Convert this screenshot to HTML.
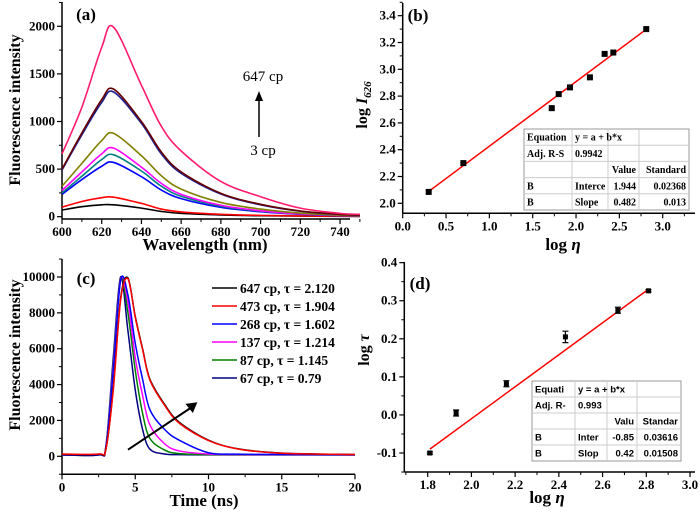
<!DOCTYPE html>
<html><head><meta charset="utf-8"><style>
html,body{margin:0;padding:0;background:#fff;}
svg{display:block;font-family:"Liberation Serif",serif;font-weight:bold;}
.tb{font-family:"Liberation Sans",sans-serif;}
</style></head><body>
<svg id="fig" width="700" height="514" viewBox="0 0 700 514" xmlns="http://www.w3.org/2000/svg"></svg>
<script>
// ---- Panel (a) data ----
const wlA = [600,610,620,626,640,650,660,680,700,720,740,750];
const aPink = [660,1150,1780,1990,1380,950,690,370,210,90,35,25];
const aBrown = [500,880,1230,1340,1000,680,470,245,130,60,25,18];
const aNavy = [490,860,1200,1310,980,660,455,238,125,58,24,17];
const aOlive = [320,560,800,875,640,430,290,150,80,38,16,12];
const aMagenta = [275,470,660,720,520,350,235,120,62,30,14,10];
const aTeal = [250,425,600,650,480,320,215,110,58,28,13,9];
const aBlue = [235,390,530,570,420,280,190,98,52,25,11,8];
const aRed = [100,160,200,205,140,80,50,25,14,8,5,4];
const aBlack = [70,105,125,125,90,55,35,18,10,6,4,3];
const aXTicks = [600,620,640,660,680,700,720,740];
const aYTicks = [0,500,1000,1500,2000];
// ---- Panel (b) data ----
const bX = [0.3,0.7,1.72,1.8,1.93,2.16,2.33,2.43,2.81];
const bY = [2.085,2.3,2.71,2.815,2.865,2.94,3.115,3.125,3.3];
const bIntercept = 1.944, bSlope = 0.482;
const bXTicks = ["0.0","0.5","1.0","1.5","2.0","2.5","3.0"];
const bYTicks = ["2.0","2.2","2.4","2.6","2.8","3.0","3.2","3.4"];
// ---- Panel (c) data ----
const tC = [0,2.5,3,3.5,4,4.5,5,5.5,6,7,8,10,12,15,20];
const c647 = [100,100,400,3800,8800,9950,7800,6000,4300,2900,1900,900,420,180,100];
const c473 = [130,130,420,3700,8700,9900,7750,5950,4250,2850,1850,880,410,170,100];
const c268 = [80,80,500,4800,9800,9000,6300,4300,2600,1500,900,200,120,100,80];
const c137 = [80,80,500,5000,9850,8600,5500,3400,1750,700,300,130,100,90,80];
const c87 = [80,80,550,5200,9900,8000,4800,2400,1000,350,150,90,80,80,80];
const c67 = [80,80,600,5500,10000,7000,3700,1500,400,130,90,80,80,80,80];
const cLegend = ["647 cp, τ = 2.120","473 cp, τ = 1.904","268 cp, τ = 1.602","137 cp, τ = 1.214","87 cp, τ = 1.145","67 cp, τ = 0.79"];
const cXTicks = [0,5,10,15,20];
const cYTicks = [0,2000,4000,6000,8000,10000];
// ---- Panel (d) data ----
const dX = [1.81,1.93,2.16,2.43,2.67,2.81];
const dY = [-0.1,0.005,0.082,0.205,0.275,0.326];
const dErr = [0.003,0.008,0.008,0.015,0.008,0.003];
const dIntercept = -0.85, dSlope = 0.42;
const dXTicks = ["1.8","2.0","2.2","2.4","2.6","2.8","3.0"];
const dYTicks = ["-0.1","0.0","0.1","0.2","0.3","0.4"];

const svg = document.getElementById('fig');
const NS = 'http://www.w3.org/2000/svg';
function mk(tag, at, parent){const e=document.createElementNS(NS,tag);for(const k in at)e.setAttribute(k,at[k]);(parent||svg).appendChild(e);return e;}
function txt(s,x,y,size,anchor,parent,extra){const e=mk('text',Object.assign({x:x,y:y,'font-size':size,'text-anchor':anchor||'middle'},extra||{}),parent);e.textContent=s;return e;}
function smooth(pts){let d='M'+pts[0][0]+','+pts[0][1];for(let i=0;i<pts.length-1;i++){const p0=pts[i-1]||pts[i],p1=pts[i],p2=pts[i+1],p3=pts[i+2]||p2;const c1=[p1[0]+(p2[0]-p0[0])/6,p1[1]+(p2[1]-p0[1])/6],c2=[p2[0]-(p3[0]-p1[0])/6,p2[1]-(p3[1]-p1[1])/6];d+=' C'+c1[0]+','+c1[1]+' '+c2[0]+','+c2[1]+' '+p2[0]+','+p2[1];}return d;}
function axes(g,cfg){
  const ax=mk('line',{x1:cfg.x0,y1:cfg.yb,x2:cfg.x1,y2:cfg.yb,stroke:'#000','stroke-width':1.5},g);
  
  
  const ay=mk('line',{x1:cfg.x0,y1:cfg.yb,x2:cfg.x0,y2:cfg.ytop,stroke:'#000','stroke-width':1.5},g);
  
  
  cfg.xticks.forEach(v=>{const x=cfg.xs(+v);mk('line',{x1:x,y1:cfg.yb,x2:x,y2:cfg.yb+5,stroke:'#000','stroke-width':1.2},g);
    const t=txt(String(v),x,cfg.yb+17,13,'middle',g);
    
    });
  cfg.xminor.forEach(v=>{const x=cfg.xs(v);mk('line',{x1:x,y1:cfg.yb,x2:x,y2:cfg.yb+3,stroke:'#000','stroke-width':1},g);});
  cfg.yticks.forEach(v=>{const y=cfg.ys(+v);mk('line',{x1:cfg.x0,y1:y,x2:cfg.x0-5,y2:y,stroke:'#000','stroke-width':1.2},g);
    const t=txt(String(v),cfg.x0-7,y+4,13,'end',g);
    
    });
  cfg.yminor.forEach(v=>{const y=cfg.ys(v);mk('line',{x1:cfg.x0,y1:y,x2:cfg.x0-3,y2:y,stroke:'#000','stroke-width':1},g);});
}
function range(a,b,s){const r=[];for(let v=a;v<=b+1e-9;v+=s)r.push(+v.toFixed(4));return r;}

// ===== Panel A =====
const gA=mk('g',{});


const axs=v=>62+(v-600)*1.986, ays=v=>216.7-v*0.0952;
axes(gA,{x0:62,x1:350,yb:219,ytop:2,xs:axs,ys:ays,xticks:aXTicks,yticks:aYTicks,xminor:range(610,750,20),yminor:range(250,2250,500)});
const aSeries=[[aBlack,'#000'],[aRed,'#ff0000'],[aBlue,'#0000ff'],[aTeal,'#008080'],[aMagenta,'#ff00ff'],[aOlive,'#808000'],[aNavy,'#202090'],[aBrown,'#660000'],[aPink,'#ff1a6e']];
aSeries.forEach(s=>{const p=mk('path',{d:smooth(wlA.map((w,i)=>[axs(w),ays(s[0][i])])),fill:'none',stroke:s[1],'stroke-width':1.6},gA);
  
  });
let t;
t=txt('(a)',86,20,17,'middle',gA);


t=txt('647 cp',263,81,15,'middle',gA,{'font-weight':'normal'});


t=txt('3 cp',263,155,15,'middle',gA,{'font-weight':'normal'});


mk('line',{x1:259,y1:137,x2:259,y2:100,stroke:'#000','stroke-width':1.5},gA);
mk('path',{d:'M255,101 L259,91 L263,101 Z',fill:'#000'},gA);
t=txt('Fluorescence intensity',0,0,16,'middle',gA,{transform:'translate(20,110) rotate(-90)'});


t=txt('Wavelength (nm)',205,250,17,'middle',gA);



// ===== Panel B =====
const gB=mk('g',{});


const bxs=v=>402.7+v*86.67, bys=v=>203.3-(v-2.0)*134;
axes(gB,{x0:402.7,x1:695,yb:213.3,ytop:3,xs:bxs,ys:bys,xticks:bXTicks,yticks:bYTicks,xminor:range(0.25,3.25,0.5),yminor:range(2.1,3.5,0.2)});
const bx0=bX[0],bx1=bX[bX.length-1];
t=mk('line',{x1:bxs(bx0),y1:bys(bIntercept+bSlope*bx0),x2:bxs(bx1),y2:bys(bIntercept+bSlope*bx1),stroke:'#ff0000','stroke-width':1.5},gB);


bX.forEach((x,i)=>{const r=mk('rect',{x:bxs(x)-3,y:bys(bY[i])-3,width:6,height:6,fill:'#000'},gB);
  
  });
t=txt('(b)',418,21,17,'middle',gB);


t=mk('text',{x:0,y:0,'font-size':16,'text-anchor':'middle',transform:'translate(367,105) rotate(-90)'},gB);
t.innerHTML='log <tspan font-style="italic">I</tspan><tspan font-style="italic" font-size="11" dy="4">626</tspan>';


t=mk('text',{x:563,y:250,'font-size':17,'text-anchor':'middle'},gB);
t.innerHTML='log <tspan font-style="italic">η</tspan>';


function table(g,x0,y0,cols,rowH,rows,cls,name){
  const w=cols[cols.length-1]-x0, h=rowH*rows.length;
  const tb=mk('g',{},g);
  
  
  mk('rect',{x:x0,y:y0,width:w,height:h,fill:'#fff',stroke:'#999','stroke-width':1},tb);
  for(let i=1;i<rows.length;i++)mk('line',{x1:x0,y1:y0+i*rowH,x2:x0+w,y2:y0+i*rowH,stroke:'#ccc','stroke-width':1},tb);
  for(let j=1;j<cols.length-1;j++)mk('line',{x1:cols[j],y1:y0,x2:cols[j],y2:y0+h,stroke:'#ccc','stroke-width':1},tb);
  rows.forEach((r,i)=>r.forEach((c,j)=>{if(!c)return;const right=(i>=2&&j>=2);
    txt(c,right?cols[j+1]-3:cols[j]+3,y0+i*rowH+rowH-4.5,cls==='tb'?9.5:10,right?'end':'start',tb,cls==='tb'?{'class':'tb'}:{});}));
}
table(gB,524,129,[524,572,608,639,689],16.2,[["Equation","y = a + b*x","",""],["Adj. R-S","0.9942","",""],["","","Value","Standard"],["B","Interce","1.944","0.02368"],["B","Slope","0.482","0.013"]],'','fit-table-b');

// ===== Panel C =====
const gC=mk('g',{});


const cxs=v=>62+v*14.65, cys=v=>456.3-v*0.01793;
axes(gC,{x0:62,x1:355,yb:474.3,ytop:259,xs:cxs,ys:cys,xticks:cXTicks,yticks:cYTicks,xminor:range(2.5,17.5,5),yminor:range(-1000,11000,2000)});
const cSeries=[[c67,'#000080'],[c87,'#008000'],[c137,'#ff00ff'],[c268,'#0000ff'],[c647,'#000'],[c473,'#ff0000']];
cSeries.forEach(s=>{const p=mk('path',{d:smooth(tC.map((w,i)=>[cxs(w),cys(s[0][i])])),fill:'none',stroke:s[1],'stroke-width':1.5},gC);
  
  });
const legCols=['#000','#ff0000','#0000ff','#ff00ff','#008000','#000080'];
cLegend.forEach((s,i)=>{const y=288+i*18;const lg=mk('g',{},gC);
  
  
  mk('line',{x1:212,y1:y,x2:237,y2:y,stroke:legCols[i],'stroke-width':1.5},lg);
  txt(s,240,y+5,13.5,'start',lg);});
mk('line',{x1:128,y1:449.7,x2:192,y2:407,stroke:'#000','stroke-width':2},gC);
mk('path',{d:'M186,403 L198,403 L192,413 Z',fill:'#000',transform:'rotate(-8 192 407)'},gC);
t=txt('(c)',86,284,17,'middle',gC);


t=txt('Fluorescence intensity',0,0,16,'middle',gC,{transform:'translate(20,355) rotate(-90)'});


t=txt('Time (ns)',204,506,17,'middle',gC);



// ===== Panel D =====
const gD=mk('g',{});


const dxs=v=>427.7+(v-1.8)*218.6, dys=v=>453-(v+0.1)*380.7;
axes(gD,{x0:404.3,x1:695,yb:472,ytop:262,xs:dxs,ys:dys,xticks:dXTicks,yticks:dYTicks,xminor:range(1.7,2.9,0.2),yminor:range(-0.15,0.35,0.1)});
const dx0=dX[0],dx1=dX[dX.length-1];
t=mk('line',{x1:dxs(dx0),y1:dys(dIntercept+dSlope*dx0),x2:dxs(dx1),y2:dys(dIntercept+dSlope*dx1),stroke:'#ff0000','stroke-width':1.5},gD);


dX.forEach((x,i)=>{const px=dxs(x),py=dys(dY[i]),e1=dys(dY[i]+dErr[i]),e2=dys(dY[i]-dErr[i]);
  const eb=mk('path',{d:`M${px},${e1}V${e2}M${px-3},${e1}H${px+3}M${px-3},${e2}H${px+3}`,stroke:'#000','stroke-width':1.2,fill:'none'},gD);
  
  
  const r=mk('rect',{x:px-2.5,y:py-2.5,width:5,height:5,fill:'#000'},gD);
  
  });
t=txt('(d)',420,289,17,'middle',gD);


t=mk('text',{x:0,y:0,'font-size':16,'text-anchor':'middle',transform:'translate(369,350) rotate(-90)'},gD);
t.innerHTML='log <tspan font-style="italic">τ</tspan>';


t=mk('text',{x:547,y:503,'font-size':17,'text-anchor':'middle'},gD);
t.innerHTML='log <tspan font-style="italic">η</tspan>';


table(gD,532,381,[532,575,607,637,681],16,[["Equati","y = a + b*x","",""],["Adj. R-","0.993","",""],["","","Valu","Standar"],["B","Inter","-0.85","0.03616"],["B","Slop","0.42","0.01508"]],'tb','fit-table-d');
</script>
</body></html>
